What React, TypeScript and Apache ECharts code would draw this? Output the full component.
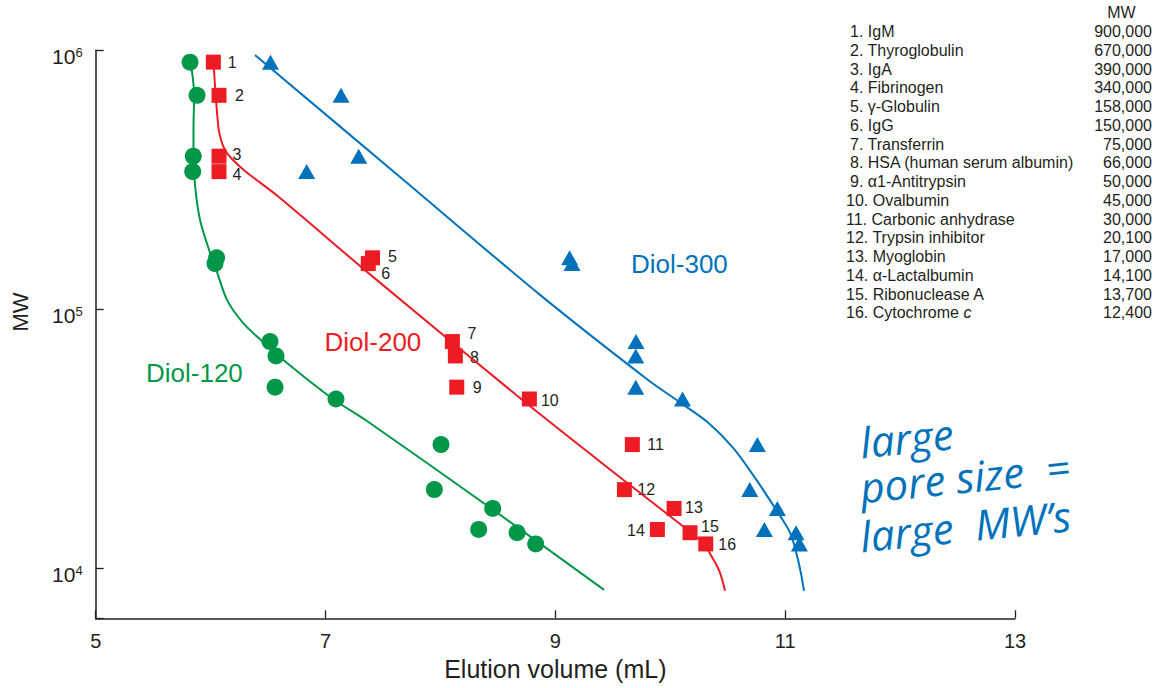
import { useEffect, useRef } from 'react'
import * as echarts from 'echarts'

// proteins (legend table), numbered 1..16
const proteinNames = [
  'IgM', 'Thyroglobulin', 'IgA', 'Fibrinogen', 'γ-Globulin', 'IgG', 'Transferrin',
  'HSA (human serum albumin)', 'α1-Antitrypsin', 'Ovalbumin', 'Carbonic anhydrase',
  'Trypsin inhibitor', 'Myoglobin', 'α-Lactalbumin', 'Ribonuclease A', 'Cytochrome c',
]
const proteinMW = [900000, 670000, 390000, 340000, 158000, 150000, 75000, 66000, 50000, 45000, 30000, 20100, 17000, 14100, 13700, 12400]

// elution volume (mL) of each protein per column
const diol120Volume = [5.821, 5.882, 5.849, 5.844, 6.052, 6.038, 6.517, 6.569, 6.561, 7.091, 8.005, 7.947, 8.455, 8.333, 8.667, 8.829]
const diol200Volume = [6.024, 6.073, 6.073, 6.073, 7.409, 7.372, 8.104, 8.13, 8.142, 8.774, 9.67, 9.601, 10.033, 9.888, 10.172, 10.309]
const diol300Volume = [6.521, 7.135, 7.289, 6.836, 9.124, 9.145, 9.702, 9.7, 9.7, 10.107, 10.758, 10.692, 10.932, 10.819, 11.095, 11.124]

// calibration curves [volume, MW]
const diol120Curve = [
  [5.821, 934000], [5.856, 672000], [5.851, 492000], [5.851, 394000], [5.864, 302000],
  [5.908, 221000], [5.995, 165000], [6.038, 147000], [6.143, 108600], [6.282, 88500],
  [6.456, 74800], [6.665, 62000], [7.065, 45000], [7.361, 37000], [8.458, 16800], [9.424, 8240],
]
const diol200Curve = [
  [6.025, 901000], [6.047, 643000], [6.069, 501000], [6.091, 450500], [6.125, 412200],
  [6.186, 380400], [6.299, 342000], [6.604, 268900], [7.413, 133300],
  [8.754, 43100], [9.624, 21350], [10.172, 13810], [10.285, 12520], [10.372, 10860],
  [10.433, 9590], [10.477, 8170],
]
const diol300Curve = [
  [6.386, 959000], [7.648, 324200], [8.867, 113600], [9.807, 53300], [10.103, 43100],
  [10.321, 36720], [10.547, 29140], [10.738, 22310], [10.921, 16800], [11.043, 13690],
  [11.112, 10770], [11.164, 8170],
]

const xTicks = [5, 7, 9, 11, 13]
const yMin = 6400
const yMax = 1000000

// offsets of the number labels beside the Diol-200 squares (negative = left side)
const numberLabelOffsets = [
  [7, 0], [8.5, 0], [6, -1.5], [6, 3.3], [8, -1.5], [5.5, 10], [7.5, -8.5], [7, 2],
  [8.5, 0.7], [4, 1.5], [7.5, 0], [5.5, 0], [3.5, -0.5], [-5, 0.7], [3.5, -6], [5, 0.7],
]

const GREEN = '#00974a'
const RED = '#ed1c24'
const BLUE = '#0072bc'
const INK = '#231f20'
const FONT = '"Liberation Sans", Arial, Helvetica, sans-serif'

const App = () => {
  const chartRef = useRef<HTMLDivElement>(null)

  useEffect(() => {
    if (!chartRef.current) return
    const chart = echarts.init(chartRef.current, undefined, { renderer: 'svg' })

    const redData = diol200Volume.map((v, i) => {
      const [dx, dy] = numberLabelOffsets[i]
      return {
        value: [v, proteinMW[i]],
        label: {
          show: true,
          formatter: String(i + 1),
          position: dx < 0 ? 'left' : 'right',
          distance: 0,
          offset: [dx, dy],
          fontSize: 16,
          color: INK,
          fontFamily: FONT,
        },
      }
    })

    // legend table on the right
    const tableRows: any[] = []
    tableRows.push({
      type: 'text', x: 1121.5, y: 12,
      style: { text: 'MW', fontSize: 16, fontFamily: FONT, fill: INK, align: 'center', verticalAlign: 'middle' },
    })
    proteinNames.forEach((name, i) => {
      const y = 31.7 + i * 18.75
      const n = i + 1
      const label = `${n}. ${name}`.replace(/ c$/, ' {i|c}')
      tableRows.push({
        type: 'text', x: n < 10 ? 850 : 846, y,
        style: {
          text: label, fontSize: 16, fontFamily: FONT, fill: INK, verticalAlign: 'middle',
          rich: { i: { fontStyle: 'italic', fontSize: 16, fontFamily: FONT, fill: INK } },
        },
      })
      tableRows.push({
        type: 'text', x: 1152, y,
        style: {
          text: proteinMW[i].toLocaleString('en-US'), fontSize: 16, fontFamily: FONT, fill: INK,
          align: 'right', verticalAlign: 'middle',
        },
      })
    })

    const hand = (text: string, x: number, y: number) => ({
      type: 'text', x, y, rotation: 0.1,
      style: {
        text, fontSize: 42, fontFamily: '"Open Sans", sans-serif', fontStyle: 'italic',
        fill: BLUE, verticalAlign: 'middle',
      },
    })

    const curve = (data: number[][], color: string) => ({
      type: 'line', data, smooth: 0.3, symbol: 'none', silent: true,
      lineStyle: { color, width: 2 },
    })

    chart.setOption({
      animation: false,
      textStyle: { fontFamily: FONT },
      grid: { left: 95.7, right: 144, top: 50.3, bottom: 69.7 },
      xAxis: {
        type: 'value',
        min: xTicks[0],
        max: xTicks[xTicks.length - 1],
        interval: xTicks[1] - xTicks[0],
        name: 'Elution volume (mL)',
        nameLocation: 'middle',
        nameGap: 37,
        nameTextStyle: { fontSize: 25, color: INK, fontFamily: FONT },
        axisLine: { onZero: false, lineStyle: { color: INK, width: 1.5 } },
        axisTick: { inside: true, length: 8, lineStyle: { color: INK, width: 1.3 } },
        axisLabel: { fontSize: 20, color: INK, margin: 13, fontFamily: FONT },
        splitLine: { show: false },
      },
      yAxis: {
        type: 'log',
        logBase: 10,
        min: yMin,
        max: yMax,
        axisLine: { show: true, lineStyle: { color: INK, width: 1.5 } },
        axisTick: { show: true, inside: true, length: 8, lineStyle: { color: INK, width: 1.3 } },
        axisLabel: {
          margin: 13,
          padding: [12, 0, 0, 0],
          formatter: (v: number) => {
            const e = Math.round(Math.log10(v))
            if (Math.abs(Math.log10(v) - e) > 1e-6) return ''
            return `{b|10}{s|${e}}`
          },
          rich: {
            b: { fontSize: 21, lineHeight: 21, color: INK, fontFamily: FONT, verticalAlign: 'bottom' },
            s: { fontSize: 13, lineHeight: 13, color: INK, fontFamily: FONT, verticalAlign: 'top' },
          },
        },
        splitLine: { show: false },
      },
      graphic: [
        {
          type: 'text', x: 20, y: 312, rotation: Math.PI / 2,
          style: { text: 'MW', fontSize: 22, fontFamily: FONT, fill: INK, align: 'center', verticalAlign: 'middle' },
        },
        { type: 'text', x: 146, y: 373, style: { text: 'Diol-120', fontSize: 26, fontFamily: FONT, fill: GREEN, verticalAlign: 'middle' } },
        { type: 'text', x: 324.5, y: 342, style: { text: 'Diol-200', fontSize: 26, fontFamily: FONT, fill: RED, verticalAlign: 'middle' } },
        { type: 'text', x: 631, y: 264, style: { text: 'Diol-300', fontSize: 26, fontFamily: FONT, fill: BLUE, verticalAlign: 'middle' } },
        ...tableRows,
        hand('large', 860, 442),
        hand('pore size  =', 860, 487),
        hand('large  MW’s', 860, 536),
      ],
      series: [
        curve(diol120Curve, GREEN),
        curve(diol200Curve, RED),
        curve(diol300Curve, BLUE),
        {
          type: 'scatter', symbol: 'circle', symbolSize: 17, silent: true,
          itemStyle: { color: GREEN, opacity: 1 },
          data: diol120Volume.map((v, i) => [v, proteinMW[i]]),
        },
        {
          type: 'scatter', symbol: 'rect', symbolSize: 15, silent: true,
          itemStyle: { color: RED, opacity: 1 },
          data: redData,
        },
        {
          type: 'scatter', symbol: 'triangle', symbolSize: [17, 15], silent: true,
          itemStyle: { color: BLUE, opacity: 1 },
          data: diol300Volume.map((v, i) => [v, proteinMW[i]]),
        },
      ],
    })

    const onResize = () => chart.resize()
    window.addEventListener('resize', onResize)
    return () => {
      window.removeEventListener('resize', onResize)
      chart.dispose()
    }
  }, [])

  return (
    <div
      ref={chartRef}
      style={{ position: 'fixed', left: 0, top: 0, width: '100vw', height: '100vh', background: '#fff' }}
    />
  )
}

export default App
